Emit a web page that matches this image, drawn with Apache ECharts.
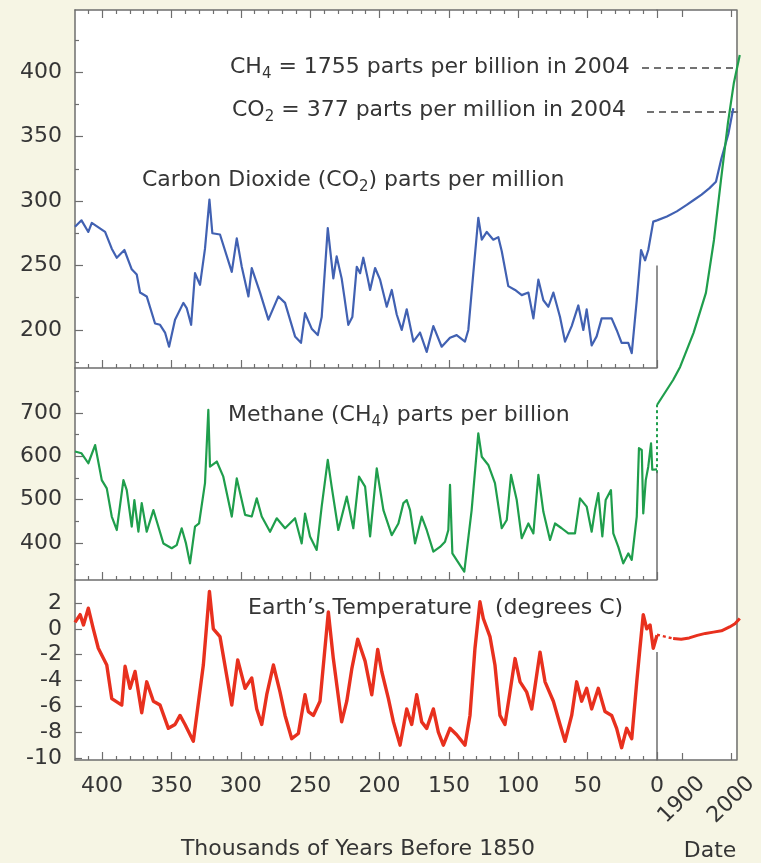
<!DOCTYPE html>
<html>
<head>
<meta charset="utf-8">
<script src="https://cdn.jsdelivr.net/npm/echarts@6/dist/echarts.min.js"></script>
<style>
  html, body { margin: 0; padding: 0; background: #f6f5e4; }
  #chart { width: 761px; height: 863px; }
</style>
</head>
<body>
<div id="chart"></div>
<script>
// Ice core records, thousands of years before 1850
// ===============================================

const co2Age = [419.5, 414.8, 409.9, 407.4, 397.8, 393, 389.4, 383.9, 378.6, 375, 372.6, 367.8, 361.8, 358.2, 354.6, 351.7,
  347.4, 341.4, 339, 335.8, 333, 329.4, 325.8, 322.6, 320.5, 315, 306.5, 302.9, 299.3, 294.5, 292.1, 286.1, 280.1, 272.9,
  268.1, 260.9, 256.6, 253.7, 248.9, 244.5, 241.7, 237.3, 233.3, 230.9, 227.3, 225.4, 222.5, 219.6, 216.4, 214, 211.7,
  208.5, 206.8, 203.2, 199.6, 194.8, 191.2, 187.6, 184, 180.4, 175.6, 170.8, 166, 161.2, 155.2, 149.2, 144.4, 138.4, 136,
  132.4, 128.8, 126.3, 122.7, 118, 114.4, 111.9, 107.2, 102.3, 97.5, 92.7, 89.1, 85.5, 81.9, 78.3, 74.7, 69.9, 66.3, 61.5,
  56.7, 53.1, 50.7, 47.1, 43.5, 39.9, 32.7, 29.1, 25.5, 20.7, 18.2, 14.6, 11.5, 8.6, 6.3, 2.7, 0]
const co2Ppm = [280, 285, 276, 283, 276, 263, 256, 262, 247, 243, 229, 226, 205, 204, 198, 187,
  208, 221, 217, 204, 244, 235, 263, 301, 275, 274, 245, 271, 249, 226, 248, 229, 208, 226,
  221, 195, 190, 213, 201, 196, 210, 279, 240, 257, 240, 226, 204, 210, 249, 244, 256,
  240, 231, 248, 239, 218, 231, 212, 200, 216, 191, 198, 183, 203, 187, 194, 196, 191, 200,
  244, 287, 270, 276, 270, 272, 261, 234, 231, 227, 229, 209, 239, 223, 218, 229, 210, 191, 203,
  219, 200, 216, 188, 195, 209, 209, 200, 190, 190, 182, 223, 262, 254, 262, 284, 285]

const ch4Age = [419.5, 414.8, 409.9, 405, 400.2, 396.6, 393, 389.4, 384.6, 382.2, 378.6, 376.7, 373.8, 371.4, 367.8, 363,
  355.8, 349.8, 346.2, 342.6, 339.5, 336.6, 333, 330.1, 325.8, 323.4, 322.2, 317.3, 312.6, 306.5, 302.9, 296.9, 292.1,
  288.5, 284.9, 278.9, 274.1, 268.1, 260.9, 256.1, 253.7, 250.1, 245.3, 241.7, 237.3, 234.5, 229.7, 223.6, 218.9, 214.8,
  210.4, 206.8, 202, 197.2, 191.2, 186.4, 182.8, 180.4, 178, 174.4, 169.6, 166, 161.2, 156.4, 152.8, 150.4, 149.2, 147.5,
  142, 138.9, 133.6, 128.8, 126.3, 121.6, 116.8, 111.9, 108.3, 105.2, 101.1, 97.5, 92.7, 89.1, 85.5, 81.9, 77.1, 73.5,
  68.7, 63.9, 59.1, 55.5, 50.7, 47.1, 44.7, 42.3, 39.4, 37, 33.2, 31.5, 27.9, 24.3, 20.7, 18.2, 14.6, 13, 11, 9.9, 8.1,
  6.3, 4.3, 3.4, 0]
const ch4Ppb = [611, 607, 584, 626, 545, 526, 461, 430, 545, 522, 438, 499, 426, 492, 426, 476,
  399, 388, 395, 434, 399, 353, 438, 445, 538, 707, 576, 588, 553, 461, 549, 465, 461,
  503, 461, 426, 457, 434, 457, 399, 468, 415, 384, 484, 592, 530, 430, 507, 434, 553,
  530, 415, 572, 476, 418, 445, 492, 499, 476, 399, 461, 430, 380, 391, 403, 430, 534, 376,
  349, 334, 476, 653, 599, 580, 538, 434, 453, 557, 499, 411, 445, 422, 557, 472, 407, 445,
  434, 422, 422, 503, 484, 426, 476, 515, 415, 499, 522, 422, 391, 353, 376, 361, 461, 619, 615, 468, 545,
  576, 630, 569, 570]

const tempAge = [419.5, 415.8, 413.4, 409.9, 406.3, 402.7, 396.6, 393, 385.8, 383.4, 379.8, 376.2, 371.4, 367.8, 363,
  358.2, 352.2, 347.4, 343.8, 340.2, 334.2, 327, 322.6, 319.8, 315, 306.5, 302.2, 296.9, 292.1, 288.5, 284.9, 281.3,
  276.5, 271.7, 268.1, 263.3, 258.5, 253.7, 251.3, 247.7, 242.9, 236.9, 233.3, 227.3, 223.6, 220, 215.7, 210.4, 205.6,
  201.3, 198.4, 193.6, 190, 185.2, 180.4, 176.8, 173.2, 169.6, 166, 161.2, 157.6, 154, 149.2, 144.4, 138.4, 134.8, 131.2,
  127.6, 125.2, 120.4, 116.8, 113.2, 109.6, 106, 102.3, 98.7, 93.9, 90.3, 84.3, 80.7, 74.7, 69.9, 66.3, 61.5, 57.9, 54.3,
  50.7, 47.1, 42.3, 37.5, 32.7, 29.1, 25.5, 21.9, 18.2, 14.6, 12.3, 9.9, 7.4, 5, 2.7, 0]
const tempC = [0.5, 1.1, 0.3, 1.6, 0, -1.5, -2.8, -5.4, -5.9, -2.9, -4.6, -3.3, -6.5, -4.1, -5.6,
  -5.9, -7.7, -7.4, -6.7, -7.4, -8.7, -2.8, 2.9, 0, -0.6, -5.9, -2.4, -4.6, -3.8, -6.2, -7.4, -5.1,
  -2.8, -4.9, -6.7, -8.5, -8.1, -5.1, -6.4, -6.7, -5.6, 1.3, -2.3, -7.2, -5.6, -3.1, -0.8, -2.5, -5.1,
  -1.6, -3.3, -5.4, -7.2, -9, -6.2, -7.4, -5.1, -7.2, -7.7, -6.2, -8, -9, -7.7, -8.2, -9, -6.7, -1.5,
  2.1, 0.8, -0.6, -2.8, -6.7, -7.4, -4.9, -2.3, -4.1, -4.9, -6.2, -1.8, -4.1, -5.6, -7.4, -8.7, -6.7, -4.1, -5.6,
  -4.6, -6.2, -4.6, -6.4, -6.7, -7.7, -9.2, -7.7, -8.5, -4.1, -1.5, 1.1, 0, 0.3, -1.5, -0.5]

// Instrumental era, calendar years
const co2Year = [1850, 1870, 1890, 1910, 1925, 1940, 1956, 1969, 1980, 1994, 2004]
const co2Recent = [285, 288, 292, 297, 301, 305, 310, 315, 333, 352, 372]
const ch4Year = [1850, 1880, 1893, 1918, 1941, 1956, 1969, 1982, 1993, 2004]
const ch4Recent = [790, 859, 895, 989, 1099, 1245, 1410, 1568, 1678, 1755]
const ch4JoinYear = [1850, 1850]
const ch4Join = [602, 790]
const tempYear = [1850, 1865, 1880, 1895, 1910, 1925, 1940, 1955, 1970, 1985, 1995, 2004]
const tempRecent = [-0.45, -0.6, -0.75, -0.8, -0.7, -0.5, -0.35, -0.25, -0.15, 0.15, 0.4, 0.8]

// Tick labels
const kyrTicks = [400, 350, 300, 250, 200, 150, 100, 50, 0]
const co2Ticks = [200, 250, 300, 350, 400]
const co2Minor = [175, 225, 275, 325, 375, 425]
const ch4Ticks = [400, 500, 600, 700]
const ch4Minor = [350, 450, 550, 650, 750]
const tempTicks = [-10, -8, -6, -4, -2, 0, 2]
const yearTicks = [1900, 2000]

const kyrMinor = []
for (let k = 10; k <= 410; k += 10) {
  if (k % 50 !== 0) kyrMinor.push(k)
}

const pairs = (xs, ys) => xs.map((x, i) => [x, ys[i]])

const frame = '#6e6e6e'
const ink = '#353535'
const font = 'DejaVu Sans'
const blue = '#4161b2'
const green = '#1f9e4c'
const red = '#e8301e'

// axis extents, chosen so the panels line up with the picture
const kyrRange = [0, 419.5]
const yearRange = [1850, 2010]
const co2Range = [170.5, 448.1]
const ch4Range = [314.6, 803.8]
const tempRange = [-10.15, 3.78]
const co2Right = [-133.3, 448.1]
const ch4Right = [-188.8, 1879.1]
const tempRight = [-10.15, 47.91]

const panels = {
  co2: {left: 75, top: 10, width: 582, height: 358},
  ch4: {left: 75, top: 368, width: 582, height: 212},
  temp: {left: 75, top: 580, width: 582, height: 180},
  now: {left: 657, top: 10, width: 86, height: 750},
}

const labelStyle = {color: ink, fontSize: 22, fontFamily: font}
const frameLine = {color: frame, width: 1.5}

function grid(p, bg) {
  return Object.assign({show: bg, backgroundColor: '#fff', borderWidth: 0, containLabel: false}, p)
}

function kyrAxis(gridIndex, position, ticks, length, withLine, withLabels) {
  return {
    type: 'value', gridIndex, position, min: kyrRange[0], max: kyrRange[1], inverse: true,
    axisLine: {show: withLine, onZero: false, lineStyle: frameLine},
    axisTick: {show: true, inside: true, length, customValues: ticks, lineStyle: {color: frame, width: 1.2}},
    axisLabel: Object.assign({show: withLabels, customValues: kyrTicks, margin: 15}, labelStyle),
    splitLine: {show: false},
  }
}

function leftAxis(gridIndex, range, ticks, length, withLine, labels) {
  return {
    type: 'value', gridIndex, position: 'left', min: range[0], max: range[1],
    axisLine: {show: withLine, onZero: false, lineStyle: frameLine},
    axisTick: {show: ticks.length > 0, inside: true, length, customValues: ticks, lineStyle: {color: frame, width: 1.2}},
    axisLabel: Object.assign({show: !!labels, customValues: labels || [], margin: 13}, labelStyle),
    splitLine: {show: false},
  }
}

function hiddenAxis(gridIndex, range) {
  return {type: 'value', gridIndex, min: range[0], max: range[1], show: false,
    axisLine: {onZero: false}, splitLine: {show: false}}
}

function yearAxis(gridIndex, position, withLabels) {
  return {
    type: 'value', gridIndex, position, min: yearRange[0], max: yearRange[1],
    axisLine: {show: true, onZero: false, lineStyle: frameLine},
    axisTick: {show: true, inside: true, length: 7, customValues: yearTicks, lineStyle: {color: frame, width: 1.2}},
    axisLabel: Object.assign({
      show: withLabels, customValues: yearTicks, rotate: 45, align: 'center', verticalAlign: 'middle', margin: 40,
      formatter: v => String(v),
    }, labelStyle),
    splitLine: {show: false},
  }
}

const edge = (from, to) => ({
  silent: true, symbol: 'none', label: {show: false},
  lineStyle: {color: frame, width: 1.5, type: 'solid'},
  data: [[{coord: [0, from]}, {coord: [0, to]}]],
})

function line(name, xi, yi, data, color, width, dashed) {
  return {
    type: 'line', name, xAxisIndex: xi, yAxisIndex: yi, data,
    showSymbol: false, symbol: 'none', clip: false, silent: true,
    lineStyle: {color, width, type: dashed ? [3, 3] : 'solid', join: 'round'},
  }
}

const co2Series = line('CO2', 0, 0, pairs(co2Age, co2Ppm), blue, 2.2)
co2Series.markLine = edge(co2Range[0], 250)
const ch4Series = line('CH4', 4, 2, pairs(ch4Age, ch4Ppb), green, 2.2)
ch4Series.markLine = edge(ch4Range[0], 565)
const tempSeries = line('Temperature', 6, 4, pairs(tempAge, tempC), red, 3.4)
tempSeries.markLine = edge(tempRange[0], -1.8)

const tempPairs = pairs(tempYear, tempRecent)

const sub = {fontSize: 15, fontFamily: font, color: ink, lineHeight: 14, verticalAlign: 'bottom'}
const main = {fontSize: 22, fontFamily: font, color: ink, lineHeight: 30}

function note(x, y, text, align) {
  return {
    type: 'text', x, y, silent: true,
    style: {text, align: align || 'left', verticalAlign: 'middle', rich: {t: main, s: sub}, fill: ink,
      font: `22px "${font}"`},
  }
}

function leader(x1, x2, y) {
  return {
    type: 'line', silent: true, shape: {x1, y1: y, x2, y2: y},
    style: {stroke: '#444', lineWidth: 1.3, lineDash: [7, 5]},
  }
}

const option = {
  animation: false,
  backgroundColor: '#f6f5e4',
  grid: [
    grid(panels.co2, true), grid(panels.co2, false),
    grid(panels.ch4, true), grid(panels.ch4, false),
    grid(panels.temp, true), grid(panels.temp, false),
    grid(panels.now, true), grid(panels.now, false), grid(panels.now, false),
  ],
  xAxis: [
    kyrAxis(0, 'bottom', kyrMinor, 4, true, false),
    kyrAxis(0, 'top', kyrMinor, 4, true, false),
    kyrAxis(1, 'bottom', kyrTicks, 8, false, false),
    kyrAxis(1, 'top', kyrTicks, 8, false, false),
    kyrAxis(2, 'bottom', kyrMinor, 4, true, false),
    kyrAxis(3, 'bottom', kyrTicks, 8, false, false),
    kyrAxis(4, 'bottom', kyrMinor, 4, true, false),
    kyrAxis(5, 'bottom', kyrTicks, 8, false, true),
    yearAxis(6, 'bottom', true),
    yearAxis(6, 'top', false),
    hiddenAxis(7, yearRange),
    hiddenAxis(8, yearRange),
  ],
  yAxis: [
    leftAxis(0, co2Range, co2Minor, 4, true, null),
    leftAxis(1, co2Range, co2Ticks, 8, false, co2Ticks),
    leftAxis(2, ch4Range, ch4Minor, 4, true, null),
    leftAxis(3, ch4Range, ch4Ticks, 8, false, ch4Ticks),
    leftAxis(4, tempRange, tempTicks, 7, true, tempTicks),
    leftAxis(5, tempRange, [], 0, false, null),
    {type: 'value', gridIndex: 6, position: 'right', min: co2Right[0], max: co2Right[1],
      axisLine: {show: true, onZero: false, lineStyle: frameLine}, axisTick: {show: false},
      axisLabel: {show: false}, splitLine: {show: false}},
    hiddenAxis(7, ch4Right),
    hiddenAxis(8, tempRight),
  ],
  series: [
    co2Series,
    ch4Series,
    tempSeries,
    line('CO2 since 1850', 8, 6, pairs(co2Year, co2Recent), blue, 2.2),
    line('CH4 join', 10, 7, pairs(ch4JoinYear, ch4Join), green, 2, true),
    line('CH4 since 1850', 10, 7, pairs(ch4Year, ch4Recent), green, 2.2),
    line('Temperature join', 11, 8, tempPairs.slice(0, 3), red, 2.4, true),
    line('Temperature since 1850', 11, 8, tempPairs.slice(2), red, 3),
  ],
  graphic: [
    note(230, 67, '{t|CH}{s|4}{t| = 1755 parts per billion in 2004}'),
    note(232, 110, '{t|CO}{s|2}{t| = 377 parts per million in 2004}'),
    leader(642, 734, 68),
    leader(647, 738, 112),
    note(142, 180, '{t|Carbon Dioxide (CO}{s|2}{t|) parts per million}'),
    note(228, 415, '{t|Methane (CH}{s|4}{t|) parts per billion}'),
    note(248, 608, '{t|Earth\u2019s Temperature}'),
    note(495, 608, '{t|(degrees C)}'),
    note(358, 849, '{t|Thousands of Years Before 1850}', 'center'),
    note(710, 851, '{t|Date}', 'center'),
  ],
}

const chart = echarts.init(document.getElementById('chart'))
chart.setOption(option)
</script>
</body>
</html>
